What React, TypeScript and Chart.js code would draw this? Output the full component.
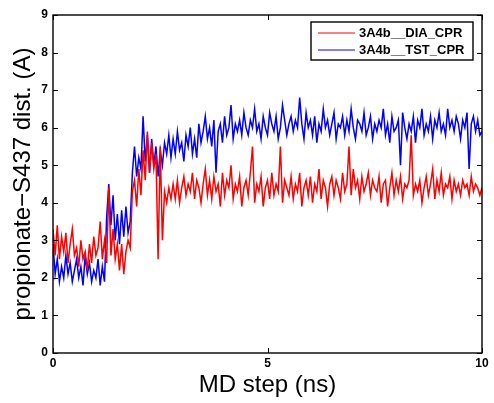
import React, { useEffect, useRef } from 'react';
import { Chart, registerables } from 'chart.js';

Chart.register(...registerables);

const X_MIN = 0;
const X_MAX = 10;
const xTicks = [0, 5, 10];
const yTicks = [0, 1, 2, 3, 4, 5, 6, 7, 8, 9];
const seriesLabels = ['3A4b__DIA_CPR', '3A4b__TST_CPR'];
const seriesColors = ['#ff0000', '#0000ff'];
const xTitle = 'MD step (ns)';
const yTitle = 'propionate\u2212S437 dist. (A)';

// sampled every 0.05 ns from 0 to 10 ns
const dia = [
  3.3, 2.6, 3.4, 2.5, 3.1, 2.7, 3.2, 2.4, 2.9, 3.3, 2.6,
  2.8, 2.3, 3.0, 2.5, 2.7, 2.2, 2.9, 2.4, 3.1, 2.6,
  2.8, 3.5, 2.5, 3.0, 2.4,
  4.4, 2.6, 3.3, 2.5, 2.9,
  2.2, 2.9, 2.1, 2.7, 3.0, 2.8,
  4.3, 4.6, 3.9, 4.9, 4.2, 5.4, 4.6, 5.9, 4.8, 5.6, 4.9, 5.3, 2.5, 5.5, 3.0, 4.3, 4.0, 4.4, 4.1,
  4.5, 4.1, 4.6, 4.0, 4.4, 4.7, 4.2, 4.5, 4.3, 4.8, 4.1, 4.6, 4.4, 4.0, 4.5,
  4.9, 4.2, 4.6, 4.1, 4.7, 4.3, 4.5, 3.9, 4.8, 4.2, 4.6, 4.4, 5.0, 4.1, 4.5, 4.3, 4.7, 3.9, 4.4, 4.6,
  4.2, 4.8, 5.5, 4.0, 4.5, 4.3, 4.7, 3.9, 4.4, 4.6, 4.1, 4.8, 4.2, 4.5, 4.3, 5.5, 4.0, 4.6, 4.4, 4.2,
  4.7, 4.1, 4.5, 4.3, 4.8, 3.9, 4.4, 4.6, 4.2, 4.7, 4.0, 4.5, 4.3, 4.9, 4.1, 4.6, 4.4, 3.9, 4.5, 4.7,
  4.2, 4.6, 4.4, 4.1, 4.8, 4.3, 4.5, 5.5, 4.2, 4.9, 4.4, 4.6, 4.1, 4.7, 4.3, 4.5, 4.8, 4.2, 4.6, 4.4,
  4.3, 4.7, 4.0, 4.5, 4.6, 3.9, 4.4, 4.8, 4.2, 4.6, 4.3, 4.7, 4.1, 4.5, 4.4, 4.6, 5.8, 4.2, 4.5, 4.3,
  4.6, 4.0, 4.4, 4.7, 4.2, 4.5, 4.9, 4.1, 4.6, 4.3, 4.8, 4.2, 4.5, 4.4, 4.7, 4.1, 4.6, 4.3, 4.5, 4.2,
  4.6, 4.4, 4.5, 4.2, 4.7, 4.3, 4.5, 4.4, 4.2, 4.4,
];

const tst = [
  2.9, 2.1, 2.5, 1.9, 2.3, 2.0, 2.6, 2.1, 2.4, 1.9, 2.2,
  2.5, 2.0, 2.3, 1.8, 2.6, 2.1, 2.4, 1.9, 2.2, 2.0,
  2.5, 1.8, 2.3, 1.9, 3.6,
  4.5, 3.4, 4.2, 3.0, 3.7, 2.9, 3.8, 3.1, 3.9, 3.2, 3.5,
  4.8, 5.5, 4.7, 5.2, 4.9, 6.3, 5.1, 5.8, 4.8, 5.7, 5.0, 5.5, 4.7, 5.4, 5.0, 5.6, 5.3, 5.8, 5.2,
  5.7, 5.3, 5.9, 5.4, 5.6, 5.1, 5.8, 5.5, 6.0, 5.3, 5.7, 5.2, 6.1, 5.6, 5.9,
  6.3, 5.7, 6.0, 5.5, 6.2, 4.8, 5.9, 6.1, 5.6, 6.3, 5.8, 6.0, 6.6, 5.7, 6.1, 5.9, 6.2, 5.8, 6.4, 6.0,
  5.8, 6.2, 6.0, 6.5, 5.9, 6.1, 5.7, 6.3, 6.0, 5.8, 6.4, 6.1, 5.9, 6.3, 5.7, 6.0, 6.6, 6.2, 5.8, 6.1,
  6.3, 5.9, 6.2, 6.0, 6.8, 6.1, 5.7, 6.4, 6.0, 6.2, 5.8, 6.3, 5.6, 6.1, 5.9, 6.5, 6.0, 6.2, 5.8, 6.1,
  6.4, 5.7, 6.1, 6.0, 6.3, 5.8, 6.2, 5.9, 6.5, 6.0, 5.7, 6.2, 6.1, 5.9, 6.4, 5.8, 6.0, 6.3, 5.7, 6.1,
  5.9, 6.2, 6.0, 6.5, 5.8, 6.1, 5.6, 6.3, 5.9, 6.0, 6.2, 5.0, 6.4, 6.0, 5.7, 6.1, 5.9, 6.3, 5.6, 6.2,
  6.0, 6.5, 5.8, 6.1, 5.9, 6.3, 5.7, 6.2, 6.0, 6.4, 5.9, 6.1, 5.8, 6.5, 6.0, 6.2, 5.9, 6.3, 6.1, 5.7,
  6.2, 6.0, 6.4, 4.9, 6.1, 6.3, 5.9, 6.2, 5.8, 5.9,
];

const seriesValues = [dia, tst];

function toPoints(vals: number[]) {
  const n = vals.length;
  return vals.map((v, i) => ({ x: X_MIN + ((X_MAX - X_MIN) * i) / (n - 1), y: v }));
}

const framePlugin = {
  id: 'matlabFrame',
  afterDatasetsDraw(chart: any) {
    const { ctx, chartArea, scales } = chart;
    const { left, right, top, bottom } = chartArea;
    const xs = scales.x;
    const ys = scales.y;
    ctx.save();
    ctx.strokeStyle = '#000';
    ctx.lineWidth = 1;
    ctx.beginPath();
    for (const v of yTicks) {
      const py = Math.round(ys.getPixelForValue(v)) + 0.5;
      ctx.moveTo(left, py);
      ctx.lineTo(left + 5, py);
      ctx.moveTo(right, py);
      ctx.lineTo(right - 5, py);
    }
    for (const v of xTicks) {
      const px = Math.round(xs.getPixelForValue(v)) + 0.5;
      ctx.moveTo(px, bottom);
      ctx.lineTo(px, bottom - 5);
      ctx.moveTo(px, top);
      ctx.lineTo(px, top + 5);
    }
    ctx.stroke();
    ctx.lineWidth = 1.4;
    ctx.strokeRect(left, top, right - left, bottom - top);

    // legend box
    const bx = right - 171;
    const by = top + 7;
    const bw = 162;
    const bh = 38;
    ctx.fillStyle = '#fff';
    ctx.fillRect(bx, by, bw, bh);
    ctx.lineWidth = 1.4;
    ctx.strokeRect(bx, by, bw, bh);
    ctx.font = 'bold 13px "Liberation Sans", Arial, sans-serif';
    ctx.textBaseline = 'middle';
    ctx.textAlign = 'left';
    seriesLabels.forEach((lab, i) => {
      const ry = by + 11 + i * 17;
      ctx.strokeStyle = seriesColors[i];
      ctx.lineWidth = 1;
      ctx.beginPath();
      ctx.moveTo(bx + 7, ry);
      ctx.lineTo(bx + 44, ry);
      ctx.stroke();
      ctx.fillStyle = '#000';
      ctx.fillText(lab, bx + 48, ry + 0.5);
    });
    ctx.restore();
  },
};

export default function App() {
  const ref = useRef<HTMLCanvasElement | null>(null);
  useEffect(() => {
    if (!ref.current) return;
    const tickFont = { family: '"Liberation Sans", Arial, sans-serif', size: 12, weight: 'bold' as const };
    const titleFont = { family: '"Liberation Sans", Arial, sans-serif', size: 24, weight: 'normal' as const };
    const chart = new Chart(ref.current, {
      type: 'line',
      data: {
        datasets: seriesValues.map((vals, i) => ({
          label: seriesLabels[i],
          data: toPoints(vals),
          borderColor: seriesColors[i],
          backgroundColor: seriesColors[i],
          borderWidth: 1.5,
          pointRadius: 0,
          tension: 0,
          fill: false,
        })),
      },
      options: {
        animation: false,
        responsive: false,
        layout: { padding: { left: 0, right: 12, top: 15, bottom: 0 } },
        plugins: { legend: { display: false }, tooltip: { enabled: false } },
        scales: {
          x: {
            type: 'linear',
            min: X_MIN,
            max: X_MAX,
            afterBuildTicks: (s: any) => {
              s.ticks = xTicks.map((v) => ({ value: v }));
            },
            afterFit: (s: any) => {
              s.height = 50;
            },
            grid: { display: false, drawTicks: false },
            border: { display: false },
            ticks: { color: '#000', font: tickFont, padding: 3, maxRotation: 0, autoSkip: false },
            title: { display: true, text: xTitle, color: '#000', font: titleFont, padding: { top: 0, bottom: 3 } },
          },
          y: {
            type: 'linear',
            min: 0,
            max: 9,
            afterBuildTicks: (s: any) => {
              s.ticks = yTicks.map((v) => ({ value: v }));
            },
            afterFit: (s: any) => {
              s.width = 53;
            },
            grid: { display: false, drawTicks: false },
            border: { display: false },
            ticks: { color: '#000', font: tickFont, padding: 5, autoSkip: false },
            title: { display: true, text: yTitle, color: '#000', font: titleFont, padding: { top: 9, bottom: 0 } },
          },
        },
      },
      plugins: [framePlugin],
    });
    return () => chart.destroy();
  }, []);
  return (
    <div style={{ position: 'fixed', left: 0, top: 0, width: 494, height: 403, background: '#fff' }}>
      <canvas ref={ref} width={494} height={403} style={{ display: 'block', width: 494, height: 403 }} />
    </div>
  );
}
